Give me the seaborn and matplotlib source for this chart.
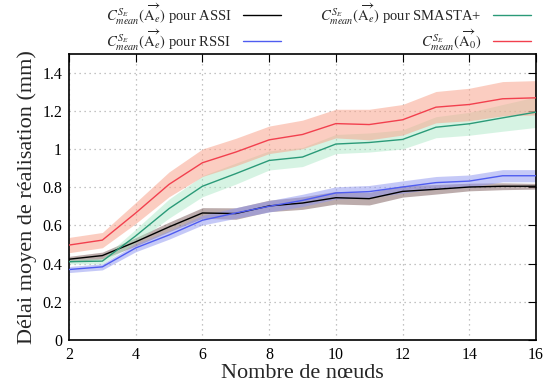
import numpy as np
import pandas as pd
import matplotlib
matplotlib.use("Agg")
import matplotlib.pyplot as plt
import seaborn as sns

# ---- data ----
nodes = [2, 3, 4, 5, 6, 7, 8, 9, 10, 11, 12, 13, 14, 15, 16]
assi = [0.423, 0.442, 0.514, 0.592, 0.665, 0.662, 0.702, 0.717, 0.745, 0.740, 0.778, 0.789, 0.801, 0.805, 0.805]
assi_hw = [0.015, 0.018, 0.022, 0.025, 0.028, 0.030, 0.030, 0.033, 0.033, 0.033, 0.030, 0.025, 0.020, 0.018, 0.015]
rssi = [0.369, 0.383, 0.482, 0.550, 0.627, 0.665, 0.700, 0.731, 0.770, 0.777, 0.801, 0.824, 0.832, 0.860, 0.860]
rssi_hw = [0.016, 0.016, 0.020, 0.022, 0.025, 0.028, 0.030, 0.032, 0.032, 0.032, 0.032, 0.032, 0.032, 0.032, 0.032]
smasta = [0.410, 0.413, 0.545, 0.688, 0.805, 0.871, 0.940, 0.958, 1.026, 1.034, 1.050, 1.114, 1.132, 1.163, 1.193]
smasta_hw = [0.012, 0.014, 0.035, 0.050, 0.055, 0.055, 0.050, 0.050, 0.050, 0.050, 0.050, 0.055, 0.060, 0.070, 0.080]
a0 = [0.497, 0.523, 0.665, 0.815, 0.928, 0.984, 1.048, 1.076, 1.133, 1.128, 1.153, 1.219, 1.233, 1.263, 1.268]
a0_hw = [0.040, 0.040, 0.055, 0.065, 0.072, 0.072, 0.072, 0.075, 0.075, 0.080, 0.080, 0.082, 0.085, 0.090, 0.090]

labels = [
    r"$C^{S_E}_{mean}(\overrightarrow{\mathrm{A}_e})$ pour ASSI",
    r"$C^{S_E}_{mean}(\overrightarrow{\mathrm{A}_e})$ pour RSSI",
    r"$C^{S_E}_{mean}(\overrightarrow{\mathrm{A}_e})$ pour SMASTA+",
    r"$C^{S_E}_{mean}(\overrightarrow{\mathrm{A}_0})$",
]
line_colors = ["#000000", "#4f5cf0", "#2a9a78", "#f2404e"]
band_colors = ["#7a5a5a", "#8d94f0", "#a6e6c2", "#f9a58e"]
band_alpha = [0.5, 0.5, 0.45, 0.55]
x_ticks = [2, 4, 6, 8, 10, 12, 14, 16]
y_ticks = [0, 0.2, 0.4, 0.6, 0.8, 1.0, 1.2, 1.4]
y_tick_labels = ["0", "0.2", "0.4", "0.6", "0.8", "1", "1.2", "1.4"]

series = [assi, rssi, smasta, a0]
halfw = [assi_hw, rssi_hw, smasta_hw, a0_hw]

rows = []
for lab, vals in zip(labels, series):
    for n, v in zip(nodes, vals):
        rows.append({"n": n, "v": v, "s": lab})
df = pd.DataFrame(rows)

sns.set_style("white")
plt.rcParams["font.family"] = ["Liberation Serif", "DejaVu Serif"]
plt.rcParams["mathtext.fontset"] = "stix"

fig = plt.figure(figsize=(5.44, 3.87), dpi=100)
ax = fig.add_axes([69 / 544, 1 - 340 / 387, (536 - 69) / 544, (340 - 53.5) / 387])

for vals, hw, c, a in zip(series, halfw, band_colors, band_alpha):
    v = np.array(vals)
    h = np.array(hw)
    ax.fill_between(nodes, v - h, v + h, color=c, alpha=a, linewidth=0, zorder=1)

sns.lineplot(data=df, x="n", y="v", hue="s", hue_order=labels,
             palette=dict(zip(labels, line_colors)), linewidth=1.0,
             ax=ax, legend=False, zorder=3)

ax.set_xlim(2, 16)
ax.set_ylim(0, 1.5)
ax.set_xticks(x_ticks)
ax.set_xticklabels([str(t) for t in x_ticks])
ax.set_yticks(y_ticks)
ax.set_yticklabels(y_tick_labels)
ax.tick_params(direction="in", length=6, width=0.8, top=True, right=True,
               labelsize=11.5, colors="black", pad=5)
ax.grid(True, color="#b0b0b0", linestyle=(0, (1, 3)), linewidth=0.9, zorder=0)
ax.set_axisbelow(True)
for sp in ax.spines.values():
    sp.set_color("black")
    sp.set_linewidth(1.2)

ax.set_xlabel("Nombre de nœuds", fontsize=16, labelpad=1)
ax.set_ylabel("Délai moyen de réalisation (mm)", fontsize=16, labelpad=4)

handles = [plt.Line2D([], [], color=c, linewidth=1.0) for c in line_colors]
fig.legend(handles, labels, ncol=2, markerfirst=False, frameon=False,
           loc="upper right", bbox_to_anchor=(532 / 544, 1.0),
           fontsize=10.5, handlelength=2.6, handletextpad=0.8,
           columnspacing=2.7, labelspacing=0.02, borderaxespad=0.0,
           borderpad=0.05)

fig.savefig("out.png", dpi=100)
